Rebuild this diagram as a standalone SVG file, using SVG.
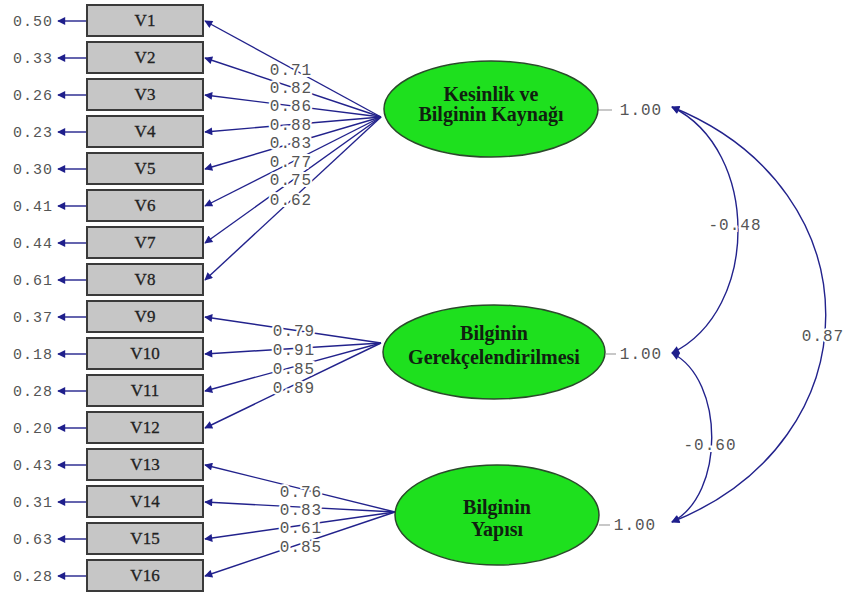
<svg xmlns="http://www.w3.org/2000/svg" width="846" height="599" viewBox="0 0 846 599">
<defs>
<marker id="ah" viewBox="0 0 10 10" refX="9" refY="5" markerWidth="11" markerHeight="8" markerUnits="userSpaceOnUse" orient="auto-start-reverse"><path d="M0,0 L10,5 L0,10 z" fill="#1f1f8c"/></marker>
<style>
.box{fill:#c6c6c6;stroke:#3a3a3a;stroke-width:2}
.bt{font-family:"Liberation Serif",serif;font-size:17px;fill:#222;text-anchor:middle;stroke:#222;stroke-width:0.3}
.ell{fill:#1ee01e;stroke:#2b4a2b;stroke-width:1.5}
.et{font-family:"Liberation Serif",serif;font-size:20px;font-weight:bold;fill:#102010;text-anchor:middle}
.cn{stroke:#22228c;stroke-width:1.4;fill:none}
.lb{font-family:"Liberation Mono",monospace;font-size:15px;fill:#555;letter-spacing:1px}
.pl{font-family:"Liberation Mono",monospace;font-size:16px;fill:#555;text-anchor:middle;letter-spacing:1px;stroke:#fff;stroke-width:4px;paint-order:stroke}
.gl{stroke:#aaa;stroke-width:1.3}
</style>
</defs>
<rect width="846" height="599" fill="#fff"/>
<g id="connectors">
<g class="cn">
<line x1="381" y1="117" x2="205" y2="21" marker-end="url(#ah)"/>
<line x1="381" y1="117" x2="205" y2="58" marker-end="url(#ah)"/>
<line x1="381" y1="117" x2="205" y2="95" marker-end="url(#ah)"/>
<line x1="381" y1="117" x2="205" y2="132" marker-end="url(#ah)"/>
<line x1="381" y1="117" x2="205" y2="169" marker-end="url(#ah)"/>
<line x1="381" y1="117" x2="205" y2="206" marker-end="url(#ah)"/>
<line x1="381" y1="117" x2="205" y2="243" marker-end="url(#ah)"/>
<line x1="381" y1="117" x2="205" y2="280" marker-end="url(#ah)"/>
<line x1="381" y1="343" x2="205" y2="317" marker-end="url(#ah)"/>
<line x1="381" y1="343" x2="205" y2="354" marker-end="url(#ah)"/>
<line x1="381" y1="343" x2="205" y2="391" marker-end="url(#ah)"/>
<line x1="381" y1="343" x2="205" y2="428" marker-end="url(#ah)"/>
<line x1="395" y1="512" x2="205" y2="465" marker-end="url(#ah)"/>
<line x1="395" y1="512" x2="205" y2="502" marker-end="url(#ah)"/>
<line x1="395" y1="512" x2="205" y2="539" marker-end="url(#ah)"/>
<line x1="395" y1="512" x2="205" y2="576" marker-end="url(#ah)"/>
<line x1="86" y1="21" x2="58" y2="21" marker-end="url(#ah)"/>
<line x1="86" y1="58" x2="58" y2="58" marker-end="url(#ah)"/>
<line x1="86" y1="95" x2="58" y2="95" marker-end="url(#ah)"/>
<line x1="86" y1="132" x2="58" y2="132" marker-end="url(#ah)"/>
<line x1="86" y1="169" x2="58" y2="169" marker-end="url(#ah)"/>
<line x1="86" y1="206" x2="58" y2="206" marker-end="url(#ah)"/>
<line x1="86" y1="243" x2="58" y2="243" marker-end="url(#ah)"/>
<line x1="86" y1="280" x2="58" y2="280" marker-end="url(#ah)"/>
<line x1="86" y1="317" x2="58" y2="317" marker-end="url(#ah)"/>
<line x1="86" y1="354" x2="58" y2="354" marker-end="url(#ah)"/>
<line x1="86" y1="391" x2="58" y2="391" marker-end="url(#ah)"/>
<line x1="86" y1="428" x2="58" y2="428" marker-end="url(#ah)"/>
<line x1="86" y1="465" x2="58" y2="465" marker-end="url(#ah)"/>
<line x1="86" y1="502" x2="58" y2="502" marker-end="url(#ah)"/>
<line x1="86" y1="539" x2="58" y2="539" marker-end="url(#ah)"/>
<line x1="86" y1="576" x2="58" y2="576" marker-end="url(#ah)"/>
<path d="M672,107 C760,150 760,310 672,353" marker-start="url(#ah)" marker-end="url(#ah)"/>
<path d="M672,107 C877,190 877,440 672,522" marker-start="url(#ah)" marker-end="url(#ah)"/>
<path d="M672,353 C725,380 725,495 672,522" marker-start="url(#ah)" marker-end="url(#ah)"/>
</g>
<line class="gl" x1="598" y1="110" x2="612" y2="110"/>
<line class="gl" x1="606" y1="354" x2="616" y2="354"/>
<line class="gl" x1="599" y1="525" x2="610" y2="525"/>
<g>
<text class="pl" x="291" y="75">0.71</text>
<text class="pl" x="291" y="93">0.82</text>
<text class="pl" x="291" y="111">0.86</text>
<text class="pl" x="291" y="130">0.88</text>
<text class="pl" x="291" y="148">0.83</text>
<text class="pl" x="291" y="167">0.77</text>
<text class="pl" x="291" y="185">0.75</text>
<text class="pl" x="291" y="205">0.62</text>
<text class="pl" x="294" y="336">0.79</text>
<text class="pl" x="294" y="355">0.91</text>
<text class="pl" x="294" y="374">0.85</text>
<text class="pl" x="294" y="393">0.89</text>
<text class="pl" x="301" y="497">0.76</text>
<text class="pl" x="301" y="515">0.83</text>
<text class="pl" x="301" y="533">0.61</text>
<text class="pl" x="301" y="552">0.85</text>
<text class="pl" x="735" y="230">-0.48</text>
<text class="pl" x="823" y="341">0.87</text>
<text class="pl" x="710" y="450">-0.60</text>
<text class="pl" x="641" y="115">1.00</text>
<text class="pl" x="641" y="359">1.00</text>
<text class="pl" x="635" y="530">1.00</text>
</g>
</g>
<g id="errors" class="lb" text-anchor="end">
<text x="53" y="26">0.50</text>
<text x="53" y="63">0.33</text>
<text x="53" y="100">0.26</text>
<text x="53" y="137">0.23</text>
<text x="53" y="174">0.30</text>
<text x="53" y="211">0.41</text>
<text x="53" y="248">0.44</text>
<text x="53" y="285">0.61</text>
<text x="53" y="322">0.37</text>
<text x="53" y="359">0.18</text>
<text x="53" y="396">0.28</text>
<text x="53" y="433">0.20</text>
<text x="53" y="470">0.43</text>
<text x="53" y="507">0.31</text>
<text x="53" y="544">0.63</text>
<text x="53" y="581">0.28</text>
</g>
<g id="V1"><rect class="box" x="87" y="5" width="116" height="31"/><text class="bt" x="145" y="26">V1</text></g>
<g id="V2"><rect class="box" x="87" y="42" width="116" height="31"/><text class="bt" x="145" y="63">V2</text></g>
<g id="V3"><rect class="box" x="87" y="79" width="116" height="31"/><text class="bt" x="145" y="100">V3</text></g>
<g id="V4"><rect class="box" x="87" y="116" width="116" height="31"/><text class="bt" x="145" y="137">V4</text></g>
<g id="V5"><rect class="box" x="87" y="153" width="116" height="31"/><text class="bt" x="145" y="174">V5</text></g>
<g id="V6"><rect class="box" x="87" y="190" width="116" height="31"/><text class="bt" x="145" y="211">V6</text></g>
<g id="V7"><rect class="box" x="87" y="227" width="116" height="31"/><text class="bt" x="145" y="248">V7</text></g>
<g id="V8"><rect class="box" x="87" y="264" width="116" height="31"/><text class="bt" x="145" y="285">V8</text></g>
<g id="V9"><rect class="box" x="87" y="301" width="116" height="31"/><text class="bt" x="145" y="322">V9</text></g>
<g id="V10"><rect class="box" x="87" y="338" width="116" height="31"/><text class="bt" x="145" y="359">V10</text></g>
<g id="V11"><rect class="box" x="87" y="375" width="116" height="31"/><text class="bt" x="145" y="396">V11</text></g>
<g id="V12"><rect class="box" x="87" y="412" width="116" height="31"/><text class="bt" x="145" y="433">V12</text></g>
<g id="V13"><rect class="box" x="87" y="449" width="116" height="31"/><text class="bt" x="145" y="470">V13</text></g>
<g id="V14"><rect class="box" x="87" y="486" width="116" height="31"/><text class="bt" x="145" y="507">V14</text></g>
<g id="V15"><rect class="box" x="87" y="523" width="116" height="31"/><text class="bt" x="145" y="544">V15</text></g>
<g id="V16"><rect class="box" x="87" y="560" width="116" height="31"/><text class="bt" x="145" y="581">V16</text></g>
<g id="F1"><ellipse class="ell" cx="491" cy="109" rx="107" ry="48"/><text class="et" x="491" y="101">Kesinlik ve</text><text class="et" x="491" y="121">Bilginin Kaynağı</text></g>
<g id="F2"><ellipse class="ell" cx="494" cy="352" rx="111" ry="47"/><text class="et" x="494" y="340">Bilginin</text><text class="et" x="494" y="364">Gerekçelendirilmesi</text></g>
<g id="F3"><ellipse class="ell" cx="497" cy="515" rx="102" ry="50"/><text class="et" x="497" y="514">Bilginin</text><text class="et" x="497" y="536">Yapısı</text></g>
</svg>
